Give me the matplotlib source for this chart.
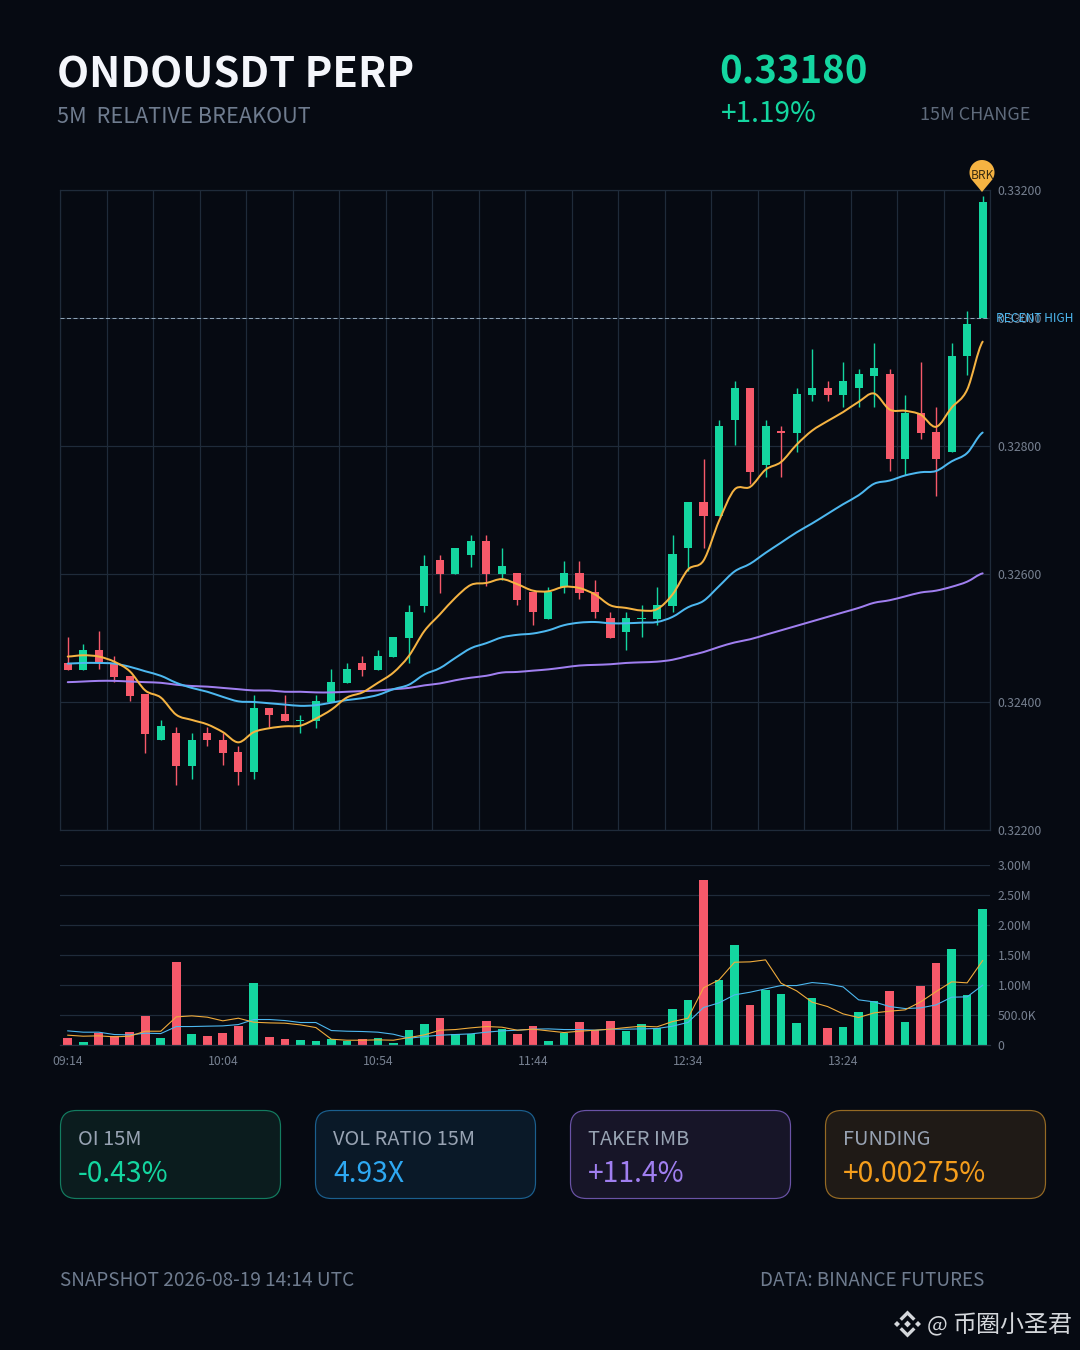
import numpy as np
import matplotlib
matplotlib.use("Agg")
import matplotlib.pyplot as plt
from matplotlib.path import Path
from matplotlib.patches import PathPatch, FancyBboxPatch, Polygon
from matplotlib.ticker import FixedLocator, FixedFormatter

plt.rcParams['font.family'] = ['Noto Sans CJK SC', 'DejaVu Sans']

# ---- data (prices in 1e-5 USDT) ----
opens = [32461,32450,32482,32461,32441,32412,32340,32352,32300,32352,32341,32322,32290,32391,32382,32370,32370,32400,32430,32461,
         32450,32470,32500,32550,32622,32600,32630,32652,32600,32602,32572,32530,32580,32602,32572,32532,32510,32530,32530,32550,
         32640,32712,32690,32840,32891,32770,32821,32820,32880,32891,32880,32890,32910,32912,32780,32851,32822,32790,32940,33000]
closes = [32450,32482,32461,32439,32410,32350,32362,32300,32341,32340,32320,32290,32391,32379,32370,32372,32401,32432,32452,32450,
          32472,32502,32541,32612,32600,32641,32652,32600,32612,32560,32540,32572,32602,32570,32540,32500,32532,32532,32552,32632,
          32712,32690,32832,32891,32760,32832,32821,32882,32891,32880,32902,32912,32922,32780,32851,32820,32780,32941,32991,33182]
highs = [32501,32491,32511,32472,32441,32412,32372,32361,32351,32361,32352,32331,32411,32391,32411,32380,32411,32451,32461,32472,
         32481,32502,32551,32630,32630,32641,32661,32661,32641,32602,32572,32580,32621,32621,32591,32541,32541,32551,32580,32661,
         32712,32780,32841,32901,32891,32841,32832,32891,32951,32901,32931,32921,32961,32921,32880,32931,32861,32961,33011,33190]
lows = [32450,32450,32451,32431,32401,32321,32340,32271,32280,32331,32301,32271,32280,32361,32370,32351,32360,32400,32430,32440,
        32450,32470,32461,32540,32571,32600,32611,32581,32591,32551,32521,32530,32571,32561,32531,32500,32481,32501,32521,32540,
        32604,32641,32690,32801,32740,32751,32751,32791,32871,32871,32861,32861,32861,32761,32754,32811,32722,32790,32911,33000]
ma_fast = [32471,32473,32471,32463,32448,32418,32407,32380,32372,32365,32353,32337,32353,32359,32362,32363,32374,32388,32407,32415,
           32430,32446,32472,32511,32537,32563,32583,32586,32592,32584,32574,32573,32580,32578,32568,32551,32547,32543,32545,32568,
           32607,32621,32683,32732,32736,32763,32775,32802,32824,32839,32853,32869,32882,32857,32855,32849,32830,32860,32888,32963]
ma_mid = [32460,32461,32461,32460,32455,32448,32441,32430,32422,32416,32408,32401,32400,32398,32396,32394,32395,32399,32403,32406,
          32411,32420,32427,32443,32453,32469,32484,32492,32501,32505,32507,32512,32520,32524,32525,32523,32523,32524,32525,32533,
          32548,32558,32581,32604,32616,32633,32649,32665,32679,32694,32709,32723,32741,32746,32754,32759,32761,32776,32789,32821]
ma_slow = [32431,32432,32433,32433,32432,32431,32430,32427,32425,32424,32422,32420,32418,32418,32416,32416,32415,32415,32416,32417,
           32418,32420,32422,32426,32429,32434,32438,32441,32446,32447,32449,32451,32454,32457,32458,32459,32461,32462,32463,32466,
           32472,32478,32486,32493,32498,32505,32512,32519,32526,32533,32540,32547,32555,32559,32565,32571,32574,32580,32588,32601]
# volume in millions
volumes = [0.128,0.055,0.200,0.150,0.220,0.494,0.117,1.383,0.183,0.156,0.205,0.322,1.044,0.133,0.111,0.083,0.078,0.100,0.078,0.100,
           0.117,0.044,0.256,0.350,0.450,0.194,0.183,0.400,0.272,0.189,0.328,0.067,0.200,0.383,0.250,0.411,0.239,0.350,0.289,0.611,
           0.750,2.750,1.094,1.672,0.667,0.922,0.850,0.367,0.789,0.283,0.311,0.550,0.739,0.911,0.394,0.994,1.372,1.600,0.833,2.267]
vol_fast = [0.167,0.150,0.156,0.139,0.150,0.233,0.233,0.472,0.489,0.467,0.406,0.450,0.383,0.372,0.367,0.339,0.294,0.100,0.083,0.083,
            0.089,0.083,0.128,0.172,0.250,0.261,0.289,0.311,0.300,0.250,0.267,0.239,0.211,0.233,0.250,0.267,0.294,0.317,0.306,0.394,
            0.450,0.956,1.089,1.383,1.389,1.422,1.033,0.906,0.717,0.644,0.522,0.461,0.539,0.567,0.589,0.722,0.894,1.056,1.039,1.411]
vol_slow = [0.239,0.217,0.217,0.178,0.172,0.200,0.194,0.311,0.311,0.317,0.322,0.344,0.428,0.428,0.411,0.378,0.378,0.244,0.233,0.228,
            0.217,0.183,0.117,0.144,0.167,0.178,0.189,0.217,0.239,0.250,0.267,0.272,0.261,0.261,0.250,0.267,0.267,0.272,0.278,0.317,
            0.380,0.628,0.706,0.839,0.883,0.939,0.994,0.994,1.044,1.022,0.972,0.756,0.722,0.644,0.611,0.622,0.672,0.800,0.806,1.000]
time_labels = ["09:14", "10:04", "10:54", "11:44", "12:34", "13:24"]
price_ticks = [0.322, 0.324, 0.326, 0.328, 0.330, 0.332]
vol_ticks = [0, 0.5, 1.0, 1.5, 2.0, 2.5, 3.0]
vol_tick_labels = ["0", "500.0K", "1.00M", "1.50M", "2.00M", "2.50M", "3.00M"]
recent_high = 0.33
cards = [("OI 15M", "-0.43%"), ("VOL RATIO 15M", "4.93X"), ("TAKER IMB", "+11.4%"), ("FUNDING", "+0.00275%")]

# ---- style ----
BG = '#060a12'
GRID = '#1f2b3a'
GREEN = '#14d6a0'
RED = '#f6596a'
ORANGE = '#f5b342'
BLUE = '#4db8f0'
PURPLE = '#a07ff0'
TICK = '#768090'
W, H = 1080, 1350

def pt(px):
    return px * 0.72

o, c, h, l = [np.array(a) / 1e5 for a in (opens, closes, highs, lows)]
x = np.arange(len(o))
up = c > o
vol_up = c >= o
col = [GREEN if u else RED for u in up]
vcol = [GREEN if u else RED for u in vol_up]

fig = plt.figure(figsize=(W / 100, H / 100), dpi=100, facecolor=BG)

def make_axes(x0, y0, x1, y1):
    return fig.add_axes([x0 / W, 1 - y1 / H, (x1 - x0) / W, (y1 - y0) / H], facecolor='none')

def smooth_line(ax, xs, ys, color, lw, zorder=4):
    ys = np.asarray(ys, float)
    verts = [(xs[0], ys[0])]
    codes = [Path.MOVETO]
    n = len(xs)
    for i in range(n - 1):
        y0 = ys[max(i - 1, 0)]; y1 = ys[i]; y2 = ys[i + 1]; y3 = ys[min(i + 2, n - 1)]
        verts += [(xs[i] + 1 / 3, y1 + (y2 - y0) / 6), (xs[i + 1] - 1 / 3, y2 - (y3 - y1) / 6), (xs[i + 1], y2)]
        codes += [Path.CURVE4] * 3
    ax.add_patch(PathPatch(Path(verts, codes), fill=False, edgecolor=color, lw=lw, zorder=zorder, capstyle='round'))

# ---- price panel ----
ax = make_axes(60, 190, 990.4, 830)
ax.set_xlim(-0.5, 59.5)
ax.set_ylim(0.322, 0.332)
ax.set_xticks(np.arange(-0.5, 60, 3))
ax.set_yticks(price_ticks)
ax.set_yticklabels([f"{t:.5f}" for t in price_ticks])
ax.yaxis.tick_right()
ax.tick_params(axis='y', length=0, pad=pt(7.4), labelsize=pt(12.2), labelcolor=TICK)
ax.tick_params(axis='x', length=0, labelbottom=False)
ax.grid(True, color=GRID, lw=pt(1.2))
ax.set_axisbelow(True)
for s in ax.spines.values():
    s.set_color(GRID); s.set_linewidth(pt(1.2))
ax.vlines(x, l, h, colors=col, lw=pt(1.4), zorder=2)
ax.bar(x, np.maximum(np.abs(c - o), 0.00002), bottom=np.minimum(o, c), width=0.52, color=col, zorder=3, linewidth=0)
ax.axhline(recent_high, color='#8ea2b5', lw=pt(1), ls=(0, (4, 2.5)), zorder=3)
smooth_line(ax, x, np.array(ma_slow) / 1e5, PURPLE, pt(2.0))
smooth_line(ax, x, np.array(ma_mid) / 1e5, BLUE, pt(2.0))
smooth_line(ax, x, np.array(ma_fast) / 1e5, ORANGE, pt(2.0))
ax.annotate("RECENT HIGH", xy=(1, recent_high), xycoords=ax.get_yaxis_transform(), xytext=(pt(5.5), 0),
            textcoords='offset points', color=BLUE, fontsize=pt(12), va='center', ha='left', annotation_clip=False)

# ---- volume panel ----
av = make_axes(60, 865.2, 990.4, 1045.2)
av.set_xlim(-0.5, 59.5)
av.set_ylim(0, 3.0)
av.yaxis.set_major_locator(FixedLocator(vol_ticks))
av.yaxis.set_major_formatter(FixedFormatter(vol_tick_labels))
av.yaxis.tick_right()
av.tick_params(axis='y', length=0, pad=pt(7.4), labelsize=pt(12.2), labelcolor=TICK)
av.set_xticks(np.arange(0, 60, 10))
av.set_xticklabels(time_labels)
av.tick_params(axis='x', length=0, pad=pt(10), labelsize=pt(12.2), labelcolor=TICK)
av.grid(True, axis='y', color=GRID, lw=pt(1.2))
av.set_axisbelow(True)
for k, s in av.spines.items():
    s.set_visible(k == 'bottom')
    s.set_color('#263241'); s.set_linewidth(pt(1.2))
av.bar(x, volumes, width=0.56, color=vcol, linewidth=0, zorder=2)
av.plot(x, vol_slow, color=BLUE, lw=pt(1.1), zorder=3)
av.plot(x, vol_fast, color='#f0ac3c', lw=pt(1.1), zorder=4)

# ---- overlay in pixel space ----
top = make_axes(0, 0, W, H)
top.set_xlim(0, W); top.set_ylim(H, 0); top.axis('off')

# BRK pin
cx, cy, r = 982, 172.5, 12.5
th = np.linspace(np.radians(-35), np.radians(215), 60)
pin = [(cx + r * np.cos(a), cy - r * np.sin(a)) for a in th] + [(cx, 192)]
top.add_patch(Polygon(pin, closed=True, fc=ORANGE, ec='none', zorder=6))
top.text(cx, cy + 3, "BRK", color='#3a2c10', fontsize=pt(12), ha='center', va='center', zorder=7)

def label(xp, yp, s, color, size, weight='normal', ha='left'):
    top.text(xp, yp, s, color=color, fontsize=pt(size), fontweight=weight, ha=ha, va='center_baseline')

label(57, 71, "ONDOUSDT PERP", '#f4f6fb', 41.7, 'bold')
label(57, 114.5, "5M  RELATIVE BREAKOUT", '#6f7c8f', 21.7)
label(719, 68, "0.33180", GREEN, 38.4, 'bold')
label(720.5, 111, "+1.19%", GREEN, 28)
label(920.5, 113, "15M CHANGE", '#5f6b7c', 18)

# metric cards
card_x = [60, 315, 570, 825]
card_fc = ['#0b1c1e', '#0a1928', '#171528', '#1f1a16']
card_ec = ['#137c60', '#1b5f8e', '#6a53a6', '#956a24']
card_val = ['#14d6a0', '#2ea8f2', '#a07ff0', '#f59e1c']
for (name, val), xp, fc, ec, vc in zip(cards, card_x, card_fc, card_ec, card_val):
    top.add_patch(FancyBboxPatch((xp + 0.5, 1110.5), 220, 88, boxstyle="round,pad=0,rounding_size=16",
                                 fc=fc, ec=ec, lw=pt(1.2)))
    label(xp + 18, 1137, name, '#98a3b3', 20)
    label(xp + 18, 1170.5, val, vc, 28.2)

# footer
label(60, 1278, "SNAPSHOT 2026-08-19 14:14 UTC", '#6f7c8f', 19)
label(760, 1278, "DATA: BINANCE FUTURES", '#6f7c8f', 18.9)

# watermark
WM = '#d4d7db'
lx, ly = 907.5, 1324
def diamond(dx, dy, rad):
    top.add_patch(Polygon([(lx + dx - rad, ly + dy), (lx + dx, ly + dy - rad), (lx + dx + rad, ly + dy), (lx + dx, ly + dy + rad)],
                          closed=True, fc=WM, ec='none'))
diamond(0, 0, 3.4)
diamond(-10.5, 0, 3)
diamond(10.5, 0, 3)
for sgn in (-1, 1):
    top.add_patch(Polygon([(lx - 8, ly + sgn * 5.5), (lx, ly + sgn * 13.5), (lx + 8, ly + sgn * 5.5), (lx + 5.6, ly + sgn * 3.2),
                           (lx, ly + sgn * 8.8), (lx - 5.6, ly + sgn * 3.2)], closed=True, fc=WM, ec='none'))
label(927, 1323, "@", WM, 22)
label(952, 1323, "币圈小圣君", WM, 24)

fig.savefig("out.png", dpi=100, facecolor=BG)
